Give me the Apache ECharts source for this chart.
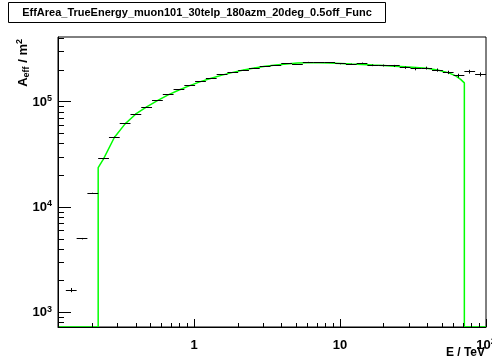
<!DOCTYPE html>
<html><head><meta charset="utf-8">
<script src="https://cdn.jsdelivr.net/npm/echarts@6/dist/echarts.min.js"></script>
<style>html,body{margin:0;padding:0;background:#fff}#c{width:492px;height:362px}</style>
</head><body><div id="c"></div>
<script>
const titleText = 'EffArea_TrueEnergy_muon101_30telp_180azm_20deg_0.5off_Func';
const xTitle = 'E / TeV';

// energy bin edges (TeV), log-spaced histogram bins
const binEdges = [0.1321, 0.1566, 0.1856, 0.2200, 0.2608, 0.3090, 0.3663, 0.4341, 0.5145, 0.6098,
  0.7228, 0.8567, 1.0153, 1.2033, 1.4262, 1.6904, 2.0035, 2.3746, 2.8145, 3.3359,
  3.9537, 4.6860, 5.5541, 6.5828, 7.8020, 9.2470, 10.960, 12.990, 15.396, 18.248,
  21.627, 25.633, 30.381, 36.008, 42.678, 50.582, 59.951, 71.056, 84.219, 100.0];
// effective area per bin (m^2)
const effArea = [1640, 5040, 13600, 28800, 46500, 62900, 76900, 89600, 103000, 118000,
  130000, 144000, 156000, 168000, 182000, 191000, 201000, 210000, 216000, 223000,
  231000, 227000, 239000, 237000, 236000, 230000, 228000, 233000, 223000, 222000,
  220000, 212000, 206000, 210000, 201000, 191000, 178000, 194000, 183000];
const effAreaErr = [75, 80, 150, 200, 300, 300, 300, 300, 300, 400,
  400, 400, 500, 500, 500, 600, 600, 700, 800, 900,
  1000, 1200, 1400, 1600, 1800, 2000, 3000, 3500, 4000, 4500,
  5000, 5500, 6000, 6500, 7000, 7000, 7500, 8000, 8000];

// fitted function (green)
const funcEnergy = [0.22, 0.2394, 0.2838, 0.3364, 0.3988, 0.4727, 0.5603, 0.6641, 0.7871, 0.9326,
  1.105, 1.310, 1.553, 1.841, 2.182, 2.586, 3.07, 3.632, 4.3, 5.102,
  6.0, 7.166, 8.5, 10.07, 12.0, 14.14, 17.0, 19.87, 23.5, 27.91,
  33.08, 39.2, 46.46, 55.07, 62.0, 67.0, 71.06];
const funcArea = [23800, 28800, 46000, 62000, 77000, 90000, 103000, 117000, 130000, 143000,
  156000, 168000, 180000, 191000, 201000, 210000, 218000, 225000, 230000, 234000,
  236000, 236000, 235000, 232000, 229000, 227000, 224000, 222000, 219000, 216000,
  213000, 209000, 201000, 190000, 177000, 164000, 152000];

const xMin = 0.1167, xMax = 100, yMin = 731, yMax = 414000;
const xMajorTicks = [1, 10, 100];
const xMinorTicks = [0.2, 0.3, 0.4, 0.5, 0.6, 0.7, 0.8, 0.9, 2, 3, 4, 5, 6, 7, 8, 9, 20, 30, 40, 50, 60, 70, 80, 90];
const yMajorTicks = [1000, 10000, 100000];
const yMinorTicks = [800, 900, 2000, 3000, 4000, 5000, 6000, 7000, 8000, 9000,
  20000, 30000, 40000, 50000, 60000, 70000, 80000, 90000, 200000, 300000, 400000];

const FONT = '"Liberation Sans", Arial, Helvetica, sans-serif';
const chart = echarts.init(document.getElementById('c'), null, {renderer: 'canvas'});

const funcData = [[xMin, yMin], [funcEnergy[0], yMin]];
funcEnergy.forEach((e, i) => funcData.push([e, funcArea[i]]));
funcData.push([funcEnergy[funcEnergy.length - 1], yMin], [xMax, yMin]);

const pointData = effArea.map((v, i) => [binEdges[i], binEdges[i + 1], v, effAreaErr[i]]);

const crisp = v => Math.round(v - 0.5) + 0.5;

function isNear(v, t) { return Math.abs(v - t) / t < 1e-6; }
const rich = {
  b: {fontFamily: FONT, fontWeight: 'bold', fontSize: 13, lineHeight: 16, color: '#000'},
  s: {fontFamily: FONT, fontWeight: 'bold', fontSize: 9, lineHeight: 10, verticalAlign: 'top', color: '#000'}
};

chart.setOption({
  animation: false,
  backgroundColor: '#fff',
  grid: {left: 58, top: 37, right: 6, bottom: 35, show: true, borderColor: '#000', borderWidth: 1,
    containLabel: false, outerBoundsMode: 'none'},
  xAxis: {
    type: 'log', logBase: 10, min: xMin, max: xMax, z: 3,
    axisLine: {show: true, lineStyle: {color: '#000', width: 1}},
    axisTick: {show: false}, splitLine: {show: false}, minorTick: {show: false},
    axisLabel: {
      show: true, margin: 10, showMinLabel: false, showMaxLabel: true, hideOverlap: false,
      formatter: v => {
        if (isNear(v, 1)) return '{b|1}';
        if (isNear(v, 10)) return '{b|10}';
        if (isNear(v, 100)) return '{b|10}{s|2}';
        return '';
      },
      rich: rich
    }
  },
  yAxis: {
    type: 'log', logBase: 10, min: yMin, max: yMax, z: 3,
    axisLine: {show: true, lineStyle: {color: '#000', width: 1}},
    axisTick: {show: false}, splitLine: {show: false}, minorTick: {show: false},
    axisLabel: {
      show: true, margin: 6, showMinLabel: false, showMaxLabel: false, hideOverlap: false,
      formatter: v => {
        for (const t of yMajorTicks) if (isNear(v, t)) return '{b|10}{s|' + Math.round(Math.log10(t)) + '}';
        return '';
      },
      rich: rich
    }
  },
  graphic: [
    {type: 'rect', shape: {x: 8.5, y: 2.5, width: 377, height: 20}, style: {fill: '#fff', stroke: '#000', lineWidth: 1}, z: 10},
    {type: 'text', x: 197, y: 12.5, z: 11, style: {text: titleText, font: 'bold 11px ' + FONT, fill: '#000', align: 'center', verticalAlign: 'middle'}},
    {type: 'text', x: 485, y: 353, z: 11, style: {text: xTitle, font: 'bold 12px ' + FONT, fill: '#000', align: 'right', verticalAlign: 'middle'}},
    {type: 'text', x: 23, y: 39, rotation: Math.PI / 2, z: 11,
      style: {text: '{a|A}{e|eff}{a| / m}{s|2}', align: 'right', verticalAlign: 'middle',
        rich: {
          a: {fontFamily: FONT, fontWeight: 'bold', fontSize: 13, lineHeight: 16, fill: '#000'},
          e: {fontFamily: FONT, fontWeight: 'bold', fontSize: 9, lineHeight: 9, verticalAlign: 'bottom', fill: '#000'},
          s: {fontFamily: FONT, fontWeight: 'bold', fontSize: 9, lineHeight: 10, verticalAlign: 'top', fill: '#000'}
        }}}
  ],
  series: [
    {
      type: 'line', data: funcData, showSymbol: false, symbol: 'none', smooth: false, z: 1,
      lineStyle: {color: '#00ff00', width: 1.5}, clip: true
    },
    {
      type: 'custom', data: pointData, encode: {x: [0, 1], y: 2}, z: 4, clip: true,
      renderItem: (params, api) => {
        const lo = api.value(0), hi = api.value(1), v = api.value(2), err = api.value(3);
        const pl = api.coord([lo, v]), ph = api.coord([hi, v]);
        const xc = Math.sqrt(lo * hi);
        const pc = api.coord([xc, v]);
        const pt = api.coord([xc, v + err]), pb = api.coord([xc, v - err]);
        const y = crisp(pl[1]);
        const xcc = crisp(pc[0]);
        return {type: 'group', children: [
          {type: 'line', shape: {x1: pl[0], y1: y, x2: ph[0], y2: y}, style: {stroke: '#000', lineWidth: 1}},
          {type: 'line', shape: {x1: xcc, y1: pt[1], x2: xcc, y2: pb[1]}, style: {stroke: '#000', lineWidth: 1}}
        ]};
      }
    },
    {
      type: 'custom', z: 5, clip: false,
      data: xMajorTicks.map(v => [v, yMin, 8]).concat(xMinorTicks.map(v => [v, yMin, 4])),
      encode: {x: 0, y: 1},
      renderItem: (params, api) => {
        const p = api.coord([api.value(0), api.value(1)]);
        const x = crisp(p[0]);
        return {type: 'line', shape: {x1: x, y1: p[1], x2: x, y2: p[1] - api.value(2)}, style: {stroke: '#000', lineWidth: 1}};
      }
    },
    {
      type: 'custom', z: 5, clip: false,
      data: yMajorTicks.map(v => [xMin, v, 13]).concat(yMinorTicks.map(v => [xMin, v, 6])),
      encode: {x: 0, y: 1},
      renderItem: (params, api) => {
        const p = api.coord([api.value(0), api.value(1)]);
        const y = crisp(p[1]);
        return {type: 'line', shape: {x1: p[0], y1: y, x2: p[0] + api.value(2), y2: y}, style: {stroke: '#000', lineWidth: 1}};
      }
    }
  ]
});
</script></body></html>
